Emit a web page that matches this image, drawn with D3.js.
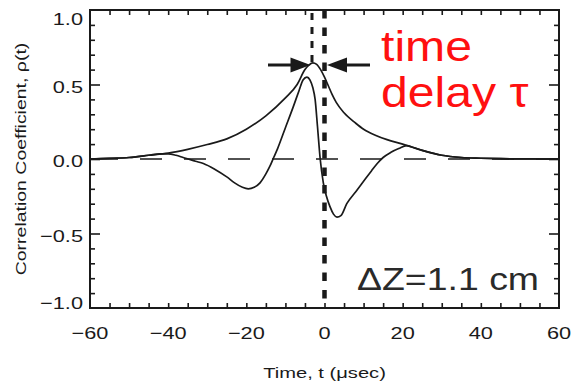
<!DOCTYPE html>
<html>
<head>
<meta charset="utf-8">
<script src="https://cdn.jsdelivr.net/npm/d3@7"></script>
<style>
  html, body { margin: 0; padding: 0; background: #fff; }
  svg { display: block; }
  text { font-family: "Liberation Sans", Arial, Helvetica, sans-serif; }
</style>
</head>
<body>
<script>
// ---- data ----
const timeEnvelope = [-60,-55,-50,-45,-40,-35,-30,-25,-20,-15,-10,-7,-5,-4,-3,-2,-1,0,1,2,3,5,8,10,13,16,20,25,30,35,40,45,50,55,60];
const rhoEnvelope  = [0,0.005,0.01,0.025,0.04,0.065,0.097,0.135,0.2,0.29,0.41,0.5,0.6,0.63,0.645,0.635,0.6,0.55,0.49,0.43,0.38,0.31,0.24,0.2,0.16,0.13,0.1,0.058,0.025,0.01,0.005,0.002,0.001,0,0];

const timeInner = [-60,-55,-50,-45,-42,-40,-38,-36,-33,-31,-28,-25,-23,-21,-19.5,-18,-16.5,-15,-14,-13,-12,-10,-8,-6.5,-5.5,-4.5,-3.7,-3,-2.4,-1.8,-1.1,-0.3,0.5,1.4,2.3,3.2,4.2,5.7,8,10,12,13.5,15,17,19,21,23,25,30,35,40,45,50,55,60];
const rhoInner  = [0,0.004,0.01,0.025,0.035,0.035,0.025,0.008,-0.015,-0.03,-0.07,-0.12,-0.16,-0.19,-0.2,-0.19,-0.16,-0.1,-0.05,0.01,0.07,0.21,0.35,0.46,0.53,0.55,0.53,0.48,0.4,0.22,0,-0.16,-0.25,-0.32,-0.37,-0.39,-0.38,-0.3,-0.22,-0.15,-0.08,-0.03,0.01,0.045,0.07,0.09,0.075,0.058,0.025,0.01,0.005,0.002,0.001,0,0];

const xTickLabels = [-60,-40,-20,0,20,40,60];
const yTickLabels = [-1.0,-0.5,0.0,0.5,1.0];
const delayMarks = [-3.2, 0];   // t of peak and t = 0
const annotationLines = ["time", "delay \u03c4"];
const separationLabel = "\u0394Z=1.1 cm";
const xTitle = "Time, t (\u03bcsec)";
const yTitle = "Correlation Coefficient, \u03c1(t)";

// ---- layout ----
const W = 572, H = 384;
const L = 90, R = 559, T = 10, B = 308;
const ink = "#1a1a1a";

const svg = d3.select("body").append("svg").attr("width", W).attr("height", H);
const x = d3.scaleLinear().domain([-60, 60]).range([L, R]);
const y = d3.scaleLinear().domain([-1, 1]).range([B, T]);

// zero dashed line
svg.append("line")
  .attr("x1", L).attr("x2", R).attr("y1", y(0)).attr("y2", y(0))
  .attr("stroke", ink).attr("stroke-width", 1.5)
  .attr("stroke-dasharray", "22,22").attr("stroke-dashoffset", 38);

// curves
const line = d3.line().x(d => x(d[0])).y(d => y(d[1])).curve(d3.curveMonotoneX);
svg.append("path").datum(d3.zip(timeEnvelope, rhoEnvelope))
  .attr("d", line).attr("fill", "none").attr("stroke", ink).attr("stroke-width", 1.7);
svg.append("path").datum(d3.zip(timeInner, rhoInner))
  .attr("d", line).attr("fill", "none").attr("stroke", ink).attr("stroke-width", 1.7);

// vertical dashed markers
svg.append("line")
  .attr("x1", x(delayMarks[0])).attr("x2", x(delayMarks[0]))
  .attr("y1", T).attr("y2", 62)
  .attr("stroke", ink).attr("stroke-width", 3).attr("stroke-dasharray", "7,7").attr("stroke-dashoffset", -3);
svg.append("line")
  .attr("x1", x(delayMarks[1])).attr("x2", x(delayMarks[1]))
  .attr("y1", T).attr("y2", B)
  .attr("stroke", ink).attr("stroke-width", 4.5).attr("stroke-dasharray", "8.5,9");

// arrows
const ay = 65;
function arrow(xTail, xTip) {
  const dir = Math.sign(xTip - xTail);
  const headLen = 20, headH = 7.5;
  svg.append("line").attr("x1", xTail).attr("x2", xTip - dir * headLen + dir * 2)
    .attr("y1", ay).attr("y2", ay).attr("stroke", ink).attr("stroke-width", 3);
  svg.append("path")
    .attr("d", `M${xTip},${ay} L${xTip - dir * headLen},${ay - headH} L${xTip - dir * headLen},${ay + headH} Z`)
    .attr("fill", ink);
}
arrow(268, x(delayMarks[0]) - 1.5);
arrow(370, x(delayMarks[1]) + 2.5);

// axes frame
svg.append("rect").attr("x", L).attr("y", T).attr("width", R - L).attr("height", B - T)
  .attr("fill", "none").attr("stroke", ink).attr("stroke-width", 2);

// ticks via d3 axes (inward)
function styleAxis(g) {
  g.select(".domain").remove();
  g.selectAll("line").attr("stroke", ink).attr("stroke-width", 1.6);
  g.selectAll("text").remove();
}
const xMinor = d3.range(-55, 60, 5);
svg.append("g").attr("transform", `translate(0,${B})`)
  .call(d3.axisBottom(x).tickValues(xMinor).tickSize(-5)).call(styleAxis);
svg.append("g").attr("transform", `translate(0,${T})`)
  .call(d3.axisTop(x).tickValues(xMinor).tickSize(-5)).call(styleAxis);
const yMinor = d3.range(-9, 10).map(v => v / 10).filter(v => Math.abs(v * 2 - Math.round(v * 2)) > 1e-6);
const yMajor = [-0.5, 0, 0.5];
svg.append("g").attr("transform", `translate(${L},0)`)
  .call(d3.axisLeft(y).tickValues(yMinor).tickSize(-5)).call(styleAxis);
svg.append("g").attr("transform", `translate(${L},0)`)
  .call(d3.axisLeft(y).tickValues(yMajor).tickSize(-10)).call(styleAxis);
svg.append("g").attr("transform", `translate(${R},0)`)
  .call(d3.axisRight(y).tickValues(yMinor).tickSize(-5)).call(styleAxis);
svg.append("g").attr("transform", `translate(${R},0)`)
  .call(d3.axisRight(y).tickValues(yMajor).tickSize(-10)).call(styleAxis);

// tick labels
const tickFont = 17, tickScale = 1.28;
xTickLabels.forEach(v => {
  const lab = v < 0 ? "\u2212" + Math.abs(v) : String(v);
  svg.append("text")
    .attr("transform", `translate(${x(v)},339) scale(${tickScale},1)`)
    .attr("text-anchor", "middle").attr("font-size", tickFont).attr("fill", ink).text(lab);
});
yTickLabels.forEach(v => {
  const lab = (v < 0 ? "\u2212" : "") + Math.abs(v).toFixed(1);
  const yy = Math.max(25, Math.min(309, y(v) + 8));
  svg.append("text")
    .attr("transform", `translate(83,${yy}) scale(${tickScale},1)`)
    .attr("text-anchor", "end").attr("font-size", tickFont).attr("fill", ink).text(lab);
});

// axis titles
svg.append("text")
  .attr("transform", `translate(${(L + R) / 2},378) scale(1.3,1)`)
  .attr("text-anchor", "middle").attr("font-size", 15.5).attr("fill", ink).text(xTitle);
svg.append("text")
  .attr("transform", `translate(26,${(T + B) / 2}) rotate(-90) scale(1.3,1)`)
  .attr("text-anchor", "middle").attr("font-size", 15).attr("fill", ink).text(yTitle);

// annotations
annotationLines.forEach((s, i) => {
  svg.append("text")
    .attr("transform", `translate(381,${61 + i * 46}) scale(1.12,1)`)
    .attr("font-size", 43).attr("fill", "#ff1010").text(s);
});
svg.append("text")
  .attr("transform", `translate(357,290) scale(1.17,1)`)
  .attr("font-size", 32).attr("fill", "#2a2a2a").text(separationLabel);
</script>
</body>
</html>
